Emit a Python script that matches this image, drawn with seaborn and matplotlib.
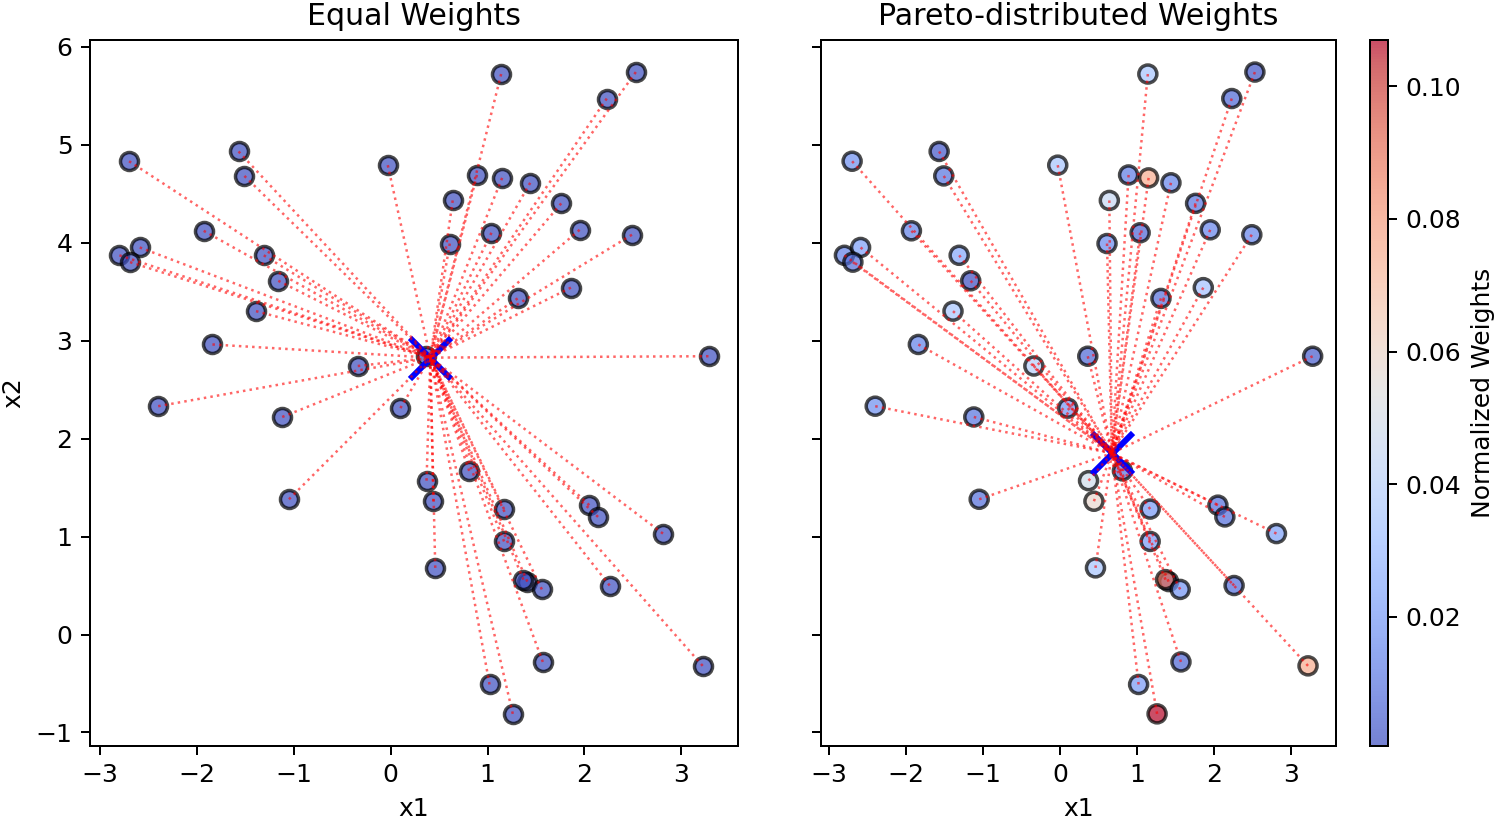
import numpy as np
import pandas as pd
import matplotlib
matplotlib.use("Agg")
import matplotlib.pyplot as plt
import seaborn as sns
from matplotlib.colors import Normalize

# ---- data ----
x1 = [1.14, 2.53, 2.23, -2.70, -1.57, -1.51, -0.03, 0.89, 1.15, 1.44,
      0.64, 1.76, -1.93, 1.95, 2.49, 1.04, 0.61, -2.80, -2.59, -2.69,
      -1.31, -1.16, -1.39, 1.86, 1.31, -1.84, 3.28, 0.36, -0.34, -2.40,
      -1.12, 0.10, -1.05, 0.81, 0.37, 0.44, 1.17, 2.05, 2.14, 2.81,
      1.17, 0.46, 1.41, 1.37, 1.56, 2.26, 1.57, 3.22, 1.02, 1.26]
x2 = [5.72, 5.74, 5.47, 4.83, 4.93, 4.68, 4.79, 4.69, 4.66, 4.61,
      4.43, 4.40, 4.12, 4.13, 4.08, 4.10, 3.99, 3.87, 3.95, 3.80,
      3.87, 3.61, 3.30, 3.54, 3.43, 2.96, 2.84, 2.84, 2.74, 2.33,
      2.22, 2.31, 1.38, 1.67, 1.57, 1.36, 1.28, 1.32, 1.20, 1.03,
      0.95, 0.68, 0.54, 0.56, 0.46, 0.50, -0.28, -0.32, -0.51, -0.81]
pareto_weights = [0.035, 0.0025, 0.0065, 0.017, 0.0026, 0.010, 0.035, 0.012, 0.075, 0.014,
                  0.045, 0.010, 0.013, 0.014, 0.014, 0.0065, 0.0155, 0.013, 0.0215, 0.0086,
                  0.024, 0.0005, 0.035, 0.033, 0.0085, 0.013, 0.004, 0.007, 0.040, 0.017,
                  0.010, 0.019, 0.008, 0.010, 0.048, 0.058, 0.020, 0.008, 0.008, 0.022,
                  0.020, 0.035, 0.003, 0.090, 0.018, 0.008, 0.006, 0.075, 0.020, 0.107]
titles = ["Equal Weights", "Pareto-distributed Weights"]

P = np.column_stack([x1, x2])
n = len(x1)
equal_weights = np.full(n, 1.0 / n)
wp = np.array(pareto_weights)


def geometric_median(points, weights, iters=3000):
    z = np.average(points, axis=0, weights=weights)
    for _ in range(iters):
        d = np.linalg.norm(points - z, axis=1)
        d = np.maximum(d, 1e-10)
        c = weights / d
        z = (c[:, None] * points).sum(0) / c.sum()
    return z


df = pd.DataFrame({"x1": x1, "x2": x2, "w": wp})

sns.set_style("ticks", {"axes.edgecolor": "black", "xtick.color": "black",
                        "ytick.color": "black", "text.color": "black",
                        "axes.labelcolor": "black"})
plt.rcParams["font.family"] = ["DejaVu Sans"]
plt.rcParams["font.size"] = 10
plt.rcParams["axes.titlesize"] = 12
plt.rcParams["axes.labelsize"] = 10
plt.rcParams["xtick.labelsize"] = 10
plt.rcParams["ytick.labelsize"] = 10
plt.rcParams["xtick.major.size"] = 3.5
plt.rcParams["ytick.major.size"] = 3.5
plt.rcParams["axes.linewidth"] = 0.8

dpi = 180
fig = plt.figure(figsize=(1499 / dpi, 821 / dpi), dpi=dpi)
ax1 = fig.add_axes([0.060, 0.0914, 0.4323, 0.8599])
ax2 = fig.add_axes([0.5477, 0.0914, 0.3436, 0.8599], sharey=ax1)
cax = fig.add_axes([0.9139, 0.0914, 0.0120, 0.8599])

cmap = plt.get_cmap("coolwarm")
norm = Normalize(vmin=wp.min(), vmax=wp.max())

# left panel
sns.scatterplot(data=df, x="x1", y="x2", color=cmap(0.0), s=52, alpha=0.7,
                edgecolor="black", linewidth=1.4, ax=ax1, legend=False, zorder=2)
m1 = geometric_median(P, equal_weights)
ax1.scatter([m1[0]], [m1[1]], marker="x", color="blue", s=270, linewidths=2.4, zorder=3)
for xi, yi in zip(x1, x2):
    ax1.plot([xi, m1[0]], [yi, m1[1]], color="red", linestyle=":", lw=1, alpha=0.6, zorder=4)

# right panel
sns.scatterplot(data=df, x="x1", y="x2", hue="w", palette="coolwarm",
                hue_norm=(wp.min(), wp.max()), s=52, alpha=0.7,
                edgecolor="black", linewidth=1.4, ax=ax2, legend=False, zorder=2)
m2 = geometric_median(P, wp)
ax2.scatter([m2[0]], [m2[1]], marker="x", color="blue", s=270, linewidths=2.4, zorder=3)
for xi, yi in zip(x1, x2):
    ax2.plot([xi, m2[0]], [yi, m2[1]], color="red", linestyle=":", lw=1, alpha=0.6, zorder=4)

for ax, t in zip([ax1, ax2], titles):
    ax.set_title(t)
    ax.set_xlabel("x1")
    ax.set_xticks(range(-3, 4))
ax1.set_ylabel("x2")
ax2.set_ylabel("")
ax1.set_yticks(range(-1, 7))
ax2.tick_params(labelleft=False)

sm = plt.cm.ScalarMappable(norm=norm, cmap=cmap)
sm.set_array([])
cb = fig.colorbar(sm, cax=cax, alpha=0.7)
cb.set_label("Normalized Weights")
cb.outline.set_linewidth(0.8)

fig.savefig("out.png", dpi=dpi)
